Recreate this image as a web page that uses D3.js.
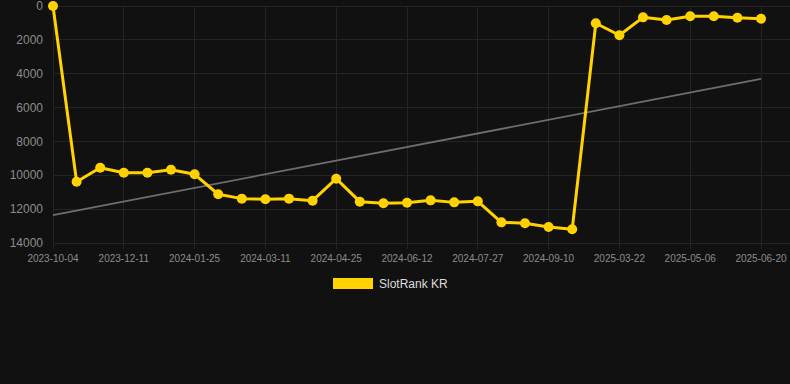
<!DOCTYPE html>
<html><head><meta charset="utf-8">
<script src="https://cdn.jsdelivr.net/npm/d3@7"></script>
<style>
html,body{margin:0;padding:0;background:#111111;}
svg{display:block;}
text{font-family:"Liberation Sans",Arial,sans-serif;}
</style></head>
<body>
<svg id="c" width="790" height="384"></svg>
<script>
const dates = ["2023-10-04","2023-10-27","2023-11-19","2023-12-11","2023-12-26","2024-01-10","2024-01-25",
"2024-02-09","2024-02-25","2024-03-11","2024-03-26","2024-04-10","2024-04-25","2024-05-11","2024-05-27",
"2024-06-12","2024-06-27","2024-07-12","2024-07-27","2024-08-11","2024-08-26","2024-09-10","2024-10-01",
"2025-02-20","2025-03-22","2025-04-06","2025-04-21","2025-05-06","2025-05-21","2025-06-05","2025-06-20"];
const rankValues = [0,10380,9550,9850,9850,9670,9940,11120,11380,11420,11380,11500,10200,11560,11650,
11620,11480,11600,11540,12780,12830,13050,13190,1020,1730,670,830,610,610,690,750];
const trendValues = [12350, 4310];
const yTicks = [0,2000,4000,6000,8000,10000,12000,14000];
const seriesName = "SlotRank KR";

const svg = d3.select("#c");
const x = d3.scalePoint().domain(d3.range(dates.length)).range([53, 761]);
const y = d3.scaleLinear().domain([0, 14000]).range([6, 243]);
const gridColor = "#242424";

// horizontal grid
svg.append("g").selectAll("line").data(yTicks).join("line")
  .attr("x1", 53).attr("x2", 790)
  .attr("y1", d => y(d)).attr("y2", d => y(d))
  .attr("stroke", gridColor).attr("stroke-width", 1).attr("shape-rendering","crispEdges");

const labelIdx = d3.range(0, dates.length, 3);
// vertical grid
svg.append("g").selectAll("line").data(labelIdx).join("line")
  .attr("x1", d => x(d)).attr("x2", d => x(d))
  .attr("y1", 6).attr("y2", 249)
  .attr("stroke", gridColor).attr("stroke-width", 1).attr("shape-rendering","crispEdges");

// y axis labels
svg.append("g").selectAll("text").data(yTicks).join("text")
  .attr("x", 43).attr("y", d => y(d)).attr("dy", "0.35em")
  .attr("text-anchor", "end").attr("fill", "#8c8c8c").attr("font-size", 12)
  .text(d => d);

// x axis labels
svg.append("g").selectAll("text").data(labelIdx).join("text")
  .attr("x", d => x(d)).attr("y", 262)
  .attr("text-anchor", "middle").attr("fill", "#8c8c8c").attr("font-size", 10)
  .text(d => dates[d]);

// trend line
const trendIdx = [0, dates.length - 1];
svg.append("path")
  .datum(trendValues.map((v, i) => [trendIdx[i], v]))
  .attr("d", d3.line().x(d => x(d[0])).y(d => y(d[1])))
  .attr("fill", "none").attr("stroke", "#6e6e6e").attr("stroke-width", 1.8);

// series line
const col = "#FFD200";
svg.append("path")
  .datum(rankValues)
  .attr("d", d3.line().x((d, i) => x(i)).y(d => y(d)))
  .attr("fill", "none").attr("stroke", col).attr("stroke-width", 3)
  .attr("stroke-linejoin", "round");

svg.append("g").selectAll("circle").data(rankValues).join("circle")
  .attr("cx", (d, i) => x(i)).attr("cy", d => y(d)).attr("r", 5)
  .attr("fill", col);

// legend
svg.append("rect").attr("x", 333).attr("y", 278).attr("width", 40).attr("height", 11).attr("fill", col);
svg.append("text").attr("x", 379).attr("y", 284).attr("dy", "0.35em")
  .attr("fill", "#dddddd").attr("font-size", 12).text(seriesName);
</script>
</body></html>
